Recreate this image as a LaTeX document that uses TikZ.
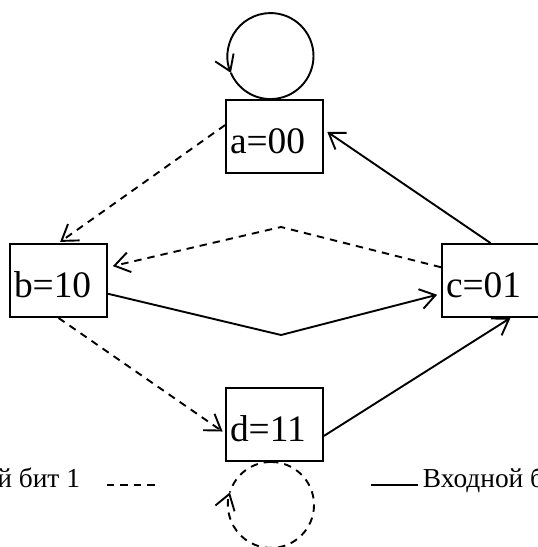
\documentclass[tikz,border=0pt]{standalone}
\usepackage{fontspec}
\setmainfont{Liberation Serif}
\usetikzlibrary{arrows.meta}

\begin{document}
\begin{tikzpicture}[x=0.5pt,y=0.5pt,line width=0.95pt,
                >={Straight Barb[length=7.5pt,width=10pt]},
                state/.style={draw,rectangle,minimum width=48.5pt,minimum height=36.5pt,inner xsep=2pt,
                    text width=44.5pt,align=left,text height=16.6pt,text depth=0pt,
                    font=\fontsize{18.7}{20}\selectfont},
                bitone/.style={dash pattern=on 3.7pt off 3pt},
                legend/.style={font=\fontsize{13.7}{15}\selectfont,inner sep=0pt}]
                \useasboundingbox (0,0) rectangle (537,-547);
                \node[state] (a) at (274.5,-136.5) {a=00};
                \node[state] (b) at (58.5,-280.5) {b=10};
                \node[state] (c) at (490.5,-280.5) {c=01};
                \node[state] (d) at (274.5,-424.5) {d=11};
                \coordinate (up) at (281,-227);
                \coordinate (dn) at (281,-335);
                \draw[->] (a.north) ++(-4,0) arc[start angle=-90,end angle=203,radius=43];
                \draw (a.north) ++(-4,0) arc[start angle=-90,end angle=-157,radius=43];
                \draw[->,shorten >=2pt] (c.north) -- (a.8);
                \draw[->,bitone,shorten >=1pt] (a.167) -- (b.north);
                \draw[->,bitone,shorten >=2.5pt] (c.165) -- (up) -- (b.15);
                \draw[->,shorten >=2pt] (b.-15) -- (dn) -- (c.195);
                \draw[->,bitone,shorten >=1.5pt] (b.south) -- (d.190);
                \draw[->] (d.-13) -- (c.-62);
                \draw[->,bitone] (d.south) ++(-3.5,0) arc[start angle=90,end angle=-197,radius=43];
                \draw[bitone] (d.south) ++(-3.5,0) arc[start angle=90,end angle=163,radius=43];
                \node[legend,anchor=base east] (one) at (81,-487) {Входной бит 1};
                \draw[bitone] (107,-485) -- (155,-485);
                \draw (371,-485) -- (418,-485);
                \node[legend,anchor=base west] (zero) at (422,-487) {Входной бит 0};
            \end{tikzpicture}
\end{document}
